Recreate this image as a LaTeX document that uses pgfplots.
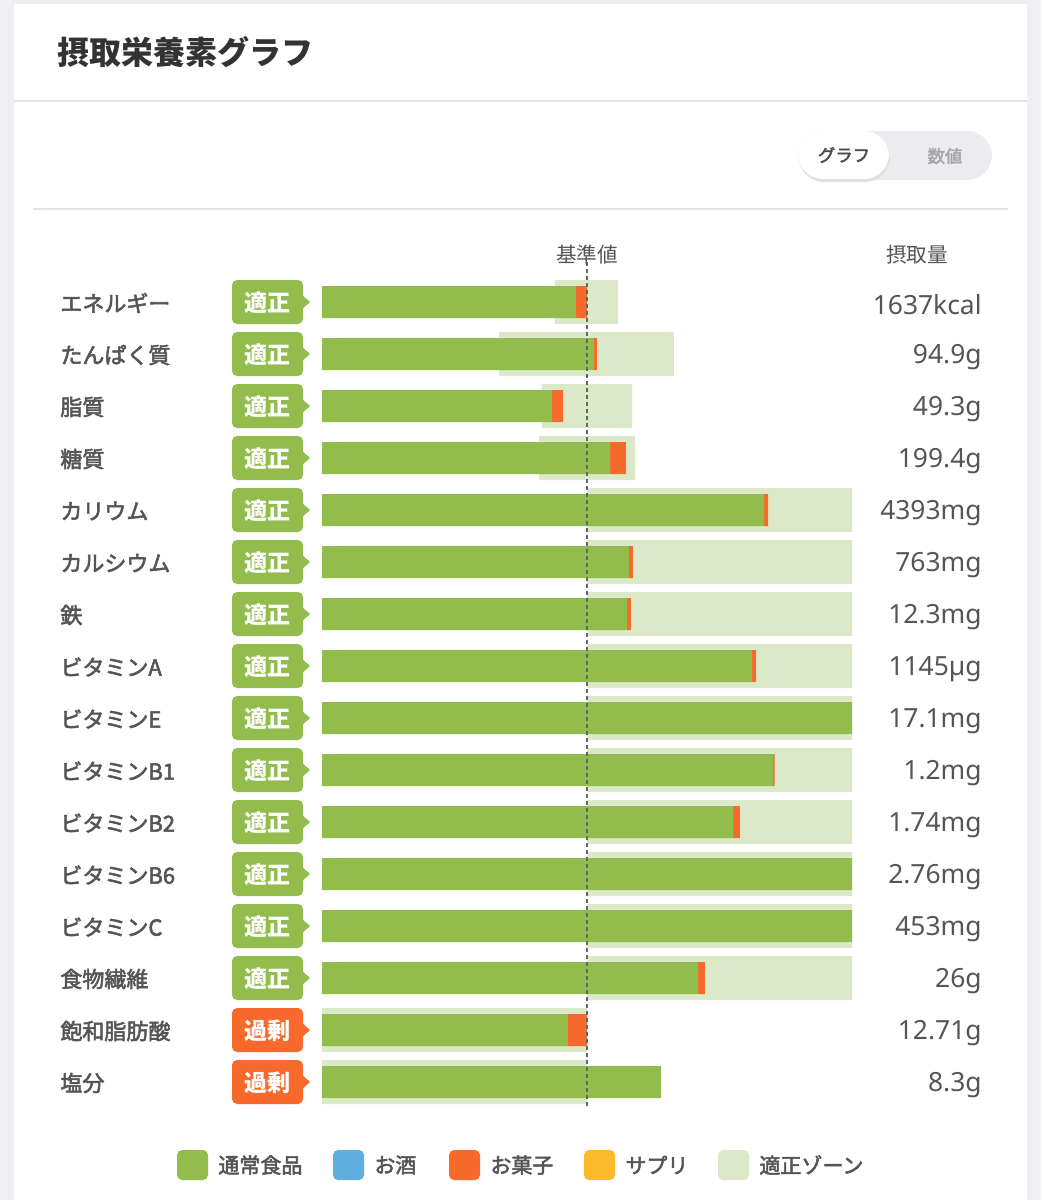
\documentclass[border=0pt]{standalone}
\usepackage{fontspec}
\usepackage{pgfplots}
\pgfplotsset{compat=1.18}
\usepackage{pgfplotstable}
\setmainfont{Noto Sans}
\newfontfamily\jp{Noto Sans CJK JP}
\newfontfamily\jpm[FakeBold=2.5]{Noto Sans CJK JP}
\definecolor{bg}{HTML}{EEEEF3}
\definecolor{gr}{HTML}{92BD4D}
\definecolor{orng}{HTML}{F76A2C}
\definecolor{zone}{HTML}{DCE9C8}
\definecolor{blu}{HTML}{5EAEE0}
\definecolor{yel}{HTML}{FBBA2B}
\definecolor{txt}{HTML}{555555}
\definecolor{sep}{HTML}{E4E4EA}
\definecolor{tog}{HTML}{EBEBF0}

\pgfplotstableread{
row zb    zl    g     o
0   87.9  23.8  95.8  4.2
1   66.8  66.0  102.6 1.1
2   83.0  34.0  86.8  4.2
3   81.9  36.2  108.7 6.0
4   100   100   166.8 1.5
5   100   100   115.8 1.5
6   100   100   115.1 1.5
7   100   100   162.3 1.5
8   100   100   200.0 0
9   100   100   170.2 0.6
10  100   100   155.1 2.6
11  100   100   200.0 0
12  100   100   200.0 0
13  100   100   141.9 2.6
14  0     100   92.8  7.2
15  0     100   127.9 0
}\data

\begin{document}
\begin{tikzpicture}
\begin{scope}[x=0.5pt,y=-0.5pt]
\fill[bg] (0,0) rectangle (1041,1200);
\fill[white] (14,4) rectangle (1027,1200);
\draw[sep, line width=1pt] (14,101) -- (1027,101);
\draw[sep, line width=1pt] (33,209) -- (1008,209);
\node[anchor=west, inner sep=0pt, font=\jp\bfseries\fontsize{16}{18}\selectfont, text=black!80] at (57,52) {摂取栄養素グラフ};
% toggle
\fill[tog, rounded corners=12.5pt] (798,131) rectangle (992,180);
\fill[black!12, rounded corners=12.5pt] (799,133) rectangle (890,182);
\fill[white, rounded corners=12.5pt] (798,131) rectangle (889,179);
\node[font=\jpm\fontsize{8.7}{10}\selectfont, text=black!70] at (844,155) {グラフ};
\node[font=\jpm\fontsize{8.7}{10}\selectfont, text=black!35] at (945,156) {数値};
% headers
\node[font=\jp\fontsize{10.3}{12}\selectfont, text=txt] at (587,255) {基準値};
\node[font=\jp\fontsize{10.3}{12}\selectfont, text=txt] at (917,255) {摂取量};
% rows
\foreach \i/\name/\val/\badge/\bc in {
 0/エネルギー/1637kcal/適正/gr,
 1/たんぱく質/94.9g/適正/gr,
 2/脂質/49.3g/適正/gr,
 3/糖質/199.4g/適正/gr,
 4/カリウム/4393mg/適正/gr,
 5/カルシウム/763mg/適正/gr,
 6/鉄/12.3mg/適正/gr,
 7/ビタミンA/1145µg/適正/gr,
 8/ビタミンE/17.1mg/適正/gr,
 9/ビタミンB1/1.2mg/適正/gr,
 10/ビタミンB2/1.74mg/適正/gr,
 11/ビタミンB6/2.76mg/適正/gr,
 12/ビタミンC/453mg/適正/gr,
 13/食物繊維/26g/適正/gr,
 14/飽和脂肪酸/12.71g/過剰/orng,
 15/塩分/8.3g/過剰/orng}{
 \pgfmathsetmacro\yy{302+52*\i}
 \node[anchor=west, inner sep=0pt, font=\jpm\fontsize{11}{13}\selectfont, text=txt] at (60,\yy+1) {\name};
 \fill[\bc, rounded corners=2.5pt] (232,\yy-22) rectangle (303,\yy+22);
 \fill[\bc] (301,\yy-8) -- (310,\yy) -- (301,\yy+8) -- cycle;
 \node[font=\jp\bfseries\fontsize{11.5}{13}\selectfont, text=white] at (267,\yy+1) {\badge};
 \node[anchor=east, inner sep=0pt, font=\fontsize{13.2}{15}\selectfont, text=txt] at (982,\yy+3) {\val};
}
% legend
\foreach \x/\c/\lab in {177/gr/通常食品, 333/blu/お酒, 449/orng/お菓子, 584/yel/サプリ, 718/zone/適正ゾーン}{
 \fill[\c, rounded corners=2.5pt] (\x,1150) rectangle (\x+31,1180);
 \node[anchor=west, inner sep=0pt, font=\jpm\fontsize{10.5}{12}\selectfont, text=txt] at (\x+41,1165) {\lab};
}
\end{scope}

\begin{axis}[at={(161pt,-138pt)}, anchor=north west, scale only axis,
  width=265pt, height=416pt, xmin=0, xmax=200, ymin=-0.5, ymax=15.5,
  y dir=reverse, hide axis, clip=false, xbar stacked, bar width=22pt]
\addplot[draw=none, fill=none] table[x=zb,y=row]{\data};
\addplot[draw=none, fill=zone] table[x=zl,y=row]{\data};
\end{axis}
\begin{axis}[at={(161pt,-138pt)}, anchor=north west, scale only axis,
  width=265pt, height=416pt, xmin=0, xmax=200, ymin=-0.5, ymax=15.5,
  y dir=reverse, hide axis, clip=false, xbar stacked, bar width=16pt]
\addplot[draw=none, fill=gr] table[x=g,y=row]{\data};
\addplot[draw=none, fill=orng] table[x=o,y=row]{\data};
\end{axis}
\begin{axis}[at={(161pt,-138pt)}, anchor=north west, scale only axis,
  width=265pt, height=416pt, xmin=0, xmax=200, ymin=-0.5, ymax=15.5,
  y dir=reverse, hide axis, clip=false]
\addplot[black!60, line width=0.75pt, dash pattern=on 2pt off 1.5pt] coordinates {(100,-0.77) (100,15.5)};
\end{axis}
\end{tikzpicture}
\end{document}
